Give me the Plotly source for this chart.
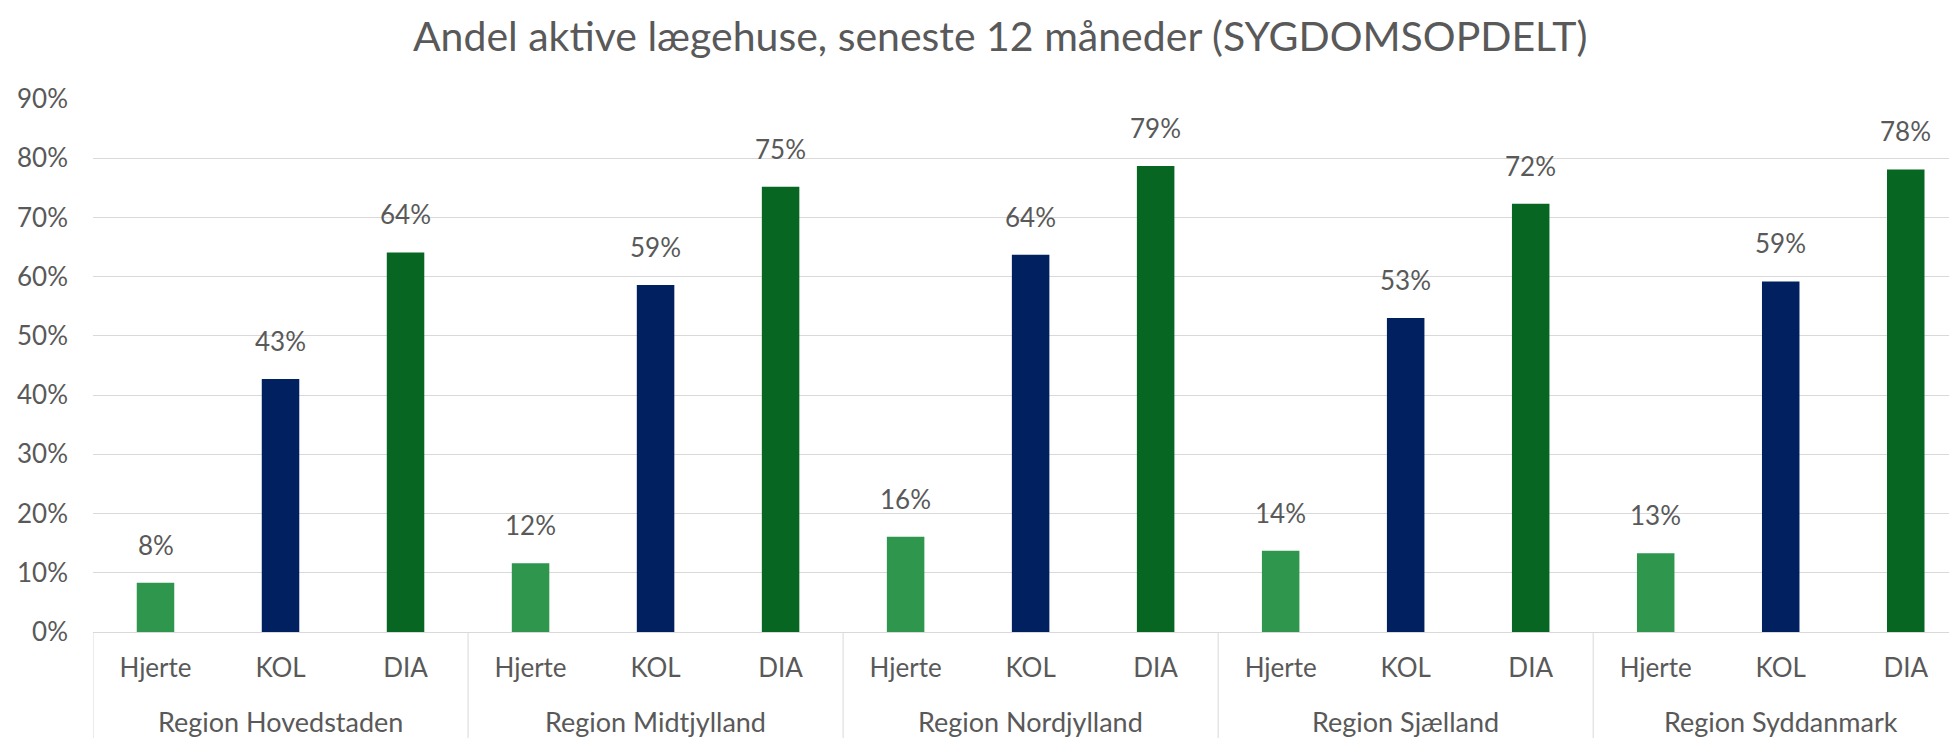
import plotly.graph_objects as go

regions = ["Region Hovedstaden", "Region Midtjylland", "Region Nordjylland", "Region Sjælland", "Region Syddanmark"]
diseases = ["Hjerte", "KOL", "DIA"]
hjerte = [0.083, 0.116, 0.161, 0.137, 0.133]
kol = [0.427, 0.586, 0.637, 0.530, 0.592]
dia = [0.641, 0.752, 0.787, 0.723, 0.781]
colors = {"Hjerte": "#2E964D", "KOL": "#01205F", "DIA": "#076622"}
y_ticks = [0, 0.1, 0.2, 0.3, 0.4, 0.5, 0.6, 0.7, 0.8, 0.9]

series = {"Hjerte": hjerte, "KOL": kol, "DIA": dia}
n_d = len(diseases)

FONT = "Lato, 'Open Sans', sans-serif"
GRAY = "#595959"
FS = 26

fig = go.Figure()
xs_all, ys_all = [], []
for j, d in enumerate(diseases):
    xs = [i * n_d + j for i in range(len(regions))]
    ys = series[d]
    xs_all += xs
    ys_all += ys
    fig.add_trace(go.Bar(x=xs, y=ys, name=d, marker=dict(color=colors[d], line=dict(width=0)),
                         width=0.3, showlegend=False))

# data labels
for x, y in zip(xs_all, ys_all):
    fig.add_annotation(x=x, y=y, text=f"{int(y * 100 + 0.5)}%", showarrow=False,
                       yanchor="bottom", yshift=20, font=dict(family=FONT, size=FS, color=GRAY))

# region labels and separators
tickvals, ticktext = [], []
for i, r in enumerate(regions):
    for j, d in enumerate(diseases):
        tickvals.append(i * n_d + j)
        ticktext.append(d)
    fig.add_annotation(x=i * n_d + (n_d - 1) / 2, y=-0.168, xref="x", yref="paper", text=r,
                       showarrow=False, yanchor="middle", font=dict(family=FONT, size=27, color=GRAY))
    fig.add_shape(type="line", x0=i * n_d - 0.5, x1=i * n_d - 0.5, y0=0, y1=-0.25,
                  xref="x", yref="paper", line=dict(color="#D9D9D9", width=1))

fig.update_layout(
    width=1957, height=738,
    margin=dict(l=85, r=8, t=91, b=114),
    plot_bgcolor="white", paper_bgcolor="white",
    title=dict(text="Andel aktive lægehuse, seneste 12 måneder (SYGDOMSOPDELT)",
               x=0.507, xanchor="center", y=1 - 29 / 738, yanchor="middle",
               font=dict(family=FONT, size=41, color=GRAY)),
    xaxis=dict(range=[-0.5, 14.41], tickvals=tickvals, ticktext=ticktext,
               showgrid=False, zeroline=False, showline=True, linecolor="#D9D9D9", linewidth=1,
               ticks="", ticklabelstandoff=13, automargin=False,
               tickfont=dict(family=FONT, size=FS, color=GRAY)),
    yaxis=dict(range=[0, 0.9], tickvals=y_ticks, tickformat=".0%", showgrid=True,
               gridcolor="#D9D9D9", gridwidth=1, zeroline=False, showline=False,
               ticks="", ticklabelstandoff=24, automargin=False,
               tickfont=dict(family=FONT, size=FS, color=GRAY)),
    bargap=0.7,
)
fig.write_html("out.html")
